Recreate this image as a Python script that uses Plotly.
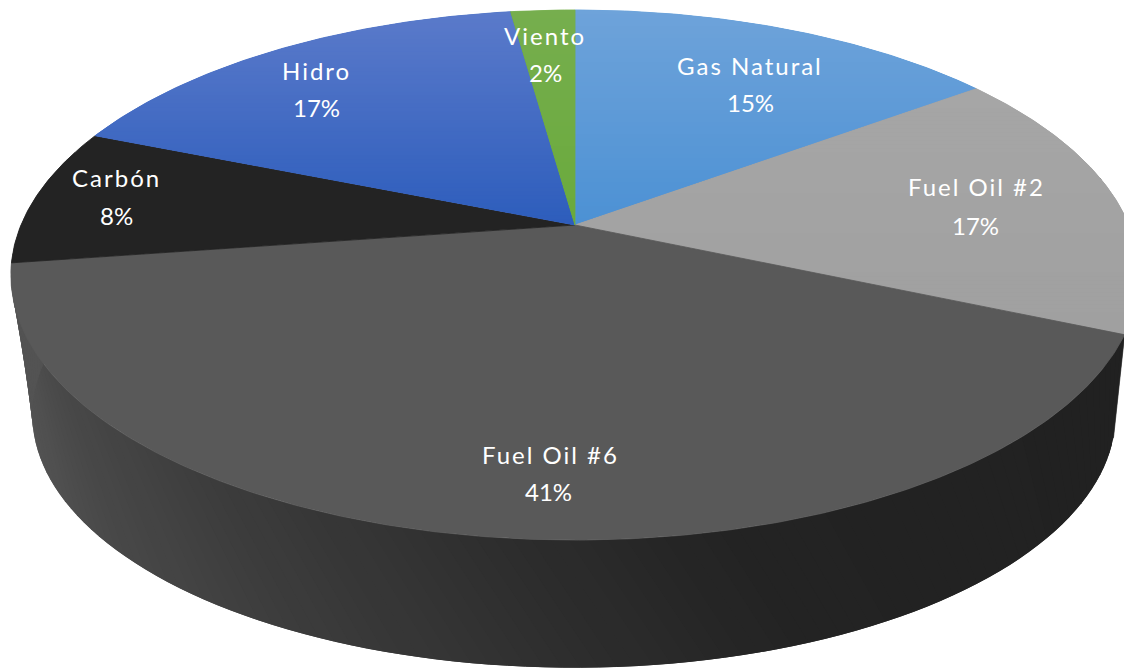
import numpy as np
import plotly.graph_objects as go

categories = ["Gas Natural", "Fuel Oil #2", "Fuel Oil #6", "Carbón", "Hidro", "Viento"]
values = [14.9, 16.6, 41.2, 8.4, 16.7, 2.2]

# (y, colour) gradient stops for each slice top, in page pixels
top_colors = [
    [(10, (110, 163, 218)), (225, (76, 145, 212))],
    [(90, (166, 166, 166)), (333, (160, 160, 160))],
    [(225, (89, 89, 89)), (540, (89, 89, 89))],
    [(135, (35, 35, 35)), (262, (35, 35, 35))],
    [(14, (90, 122, 202)), (225, (45, 93, 188))],
    [(10, (118, 174, 78)), (225, (106, 170, 60))],
]
# wall shade along x for the big slice
wall_stops_x = [20, 120, 300, 575, 800, 1124]
wall_stops_v = [85, 72, 60, 46, 35, 33]

# label layout, page pixels: name x, name y, pct x, pct y
label_pos = [
    (750, 65, 750, 102),
    (976, 186, 975, 225),
    (550, 454, 548, 491),
    (116, 177, 116, 215),
    (316, 70, 316, 107),
    (545, 35, 545, 72),
]

CX, CY = 575, 225
A, B, K = 554, 255.6, 0.1887
CX2, CY2, A2, B2 = 574, 367, 532, 244
WALL_SKEW = 0.13


def rim(theta, a=A, b=B, cx=CX, cy=CY):
    u, v = np.sin(theta), np.cos(theta)
    w = 1 + K * v
    return cx + a * u / w, cy - b * v / w


def base_rim(theta):
    return rim(theta, A2, B2, CX2, CY2)


def rgb(c):
    return "rgb(%d,%d,%d)" % tuple(int(round(x)) for x in c)


def clip(poly, y0, y1):
    def half(pts, inside, cross):
        out = []
        for i in range(len(pts)):
            p, q = pts[i], pts[(i + 1) % len(pts)]
            if inside(p):
                out.append(p)
                if not inside(q):
                    out.append(cross(p, q))
            elif inside(q):
                out.append(cross(p, q))
        return out

    def crosser(y):
        def f(p, q):
            t = (y - p[1]) / (q[1] - p[1])
            return (p[0] + t * (q[0] - p[0]), y)
        return f

    r = half(poly, lambda p: p[1] >= y0, crosser(y0))
    if r:
        r = half(r, lambda p: p[1] <= y1, crosser(y1))
    return r


fig = go.Figure()


def add_poly(pts, color, width=0.8):
    xs = [p[0] for p in pts] + [pts[0][0]]
    ys = [p[1] for p in pts] + [pts[0][1]]
    fig.add_trace(go.Scatter(x=xs, y=ys, mode="lines", fill="toself", fillcolor=color,
                             line=dict(color=color, width=width), hoverinfo="skip", showlegend=False))


total = sum(values)
edges = np.cumsum([0] + values) / total * 2 * np.pi


def wall_quad(t0, t1):
    ts = np.linspace(t0, t1, 4)
    return [rim(t) for t in ts] + [base_rim(t - WALL_SKEW) for t in ts[::-1]]


# side wall: the sliver of the Fuel Oil #2 wall, then the big slice
add_poly(wall_quad(edges[2] - 0.6, edges[2]), "rgb(78,78,78)")

th = np.linspace(edges[2], edges[3] + 0.45, 110)
step = th[1] - th[0]
for a0 in th[:-1]:
    bx = base_rim(a0 + step / 2 - WALL_SKEW)[0]
    g = np.interp(bx, wall_stops_x, wall_stops_v)
    add_poly(wall_quad(a0, a0 + 2 * step if a0 < th[-2] else a0 + step), rgb((g, g, g)), width=0)

# slice tops
for i, cat in enumerate(categories):
    ts = np.linspace(edges[i], edges[i + 1], max(6, int(values[i] * 6)))
    poly = [(CX, CY)] + [rim(t) for t in ts]
    stops = top_colors[i]
    y0, y1 = stops[0][0], stops[-1][0]
    if stops[0][1] == stops[-1][1]:
        add_poly(poly, rgb(stops[0][1]))
        continue
    mid = [(stops[0][1][k] + stops[-1][1][k]) / 2 for k in range(3)]
    add_poly(poly, rgb(mid), width=0.8)
    ymin = min(p[1] for p in poly)
    ymax = max(p[1] for p in poly)
    bands = np.arange(ymin, ymax + 4, 4)
    for b0, b1 in zip(bands[:-1], bands[1:]):
        piece = clip(poly, b0, b1 + 4)
        if len(piece) < 3:
            continue
        t = np.clip(((b0 + b1) / 2 - y0) / (y1 - y0), 0, 1)
        c = [stops[0][1][k] + t * (stops[-1][1][k] - stops[0][1][k]) for k in range(3)]
        add_poly(piece, rgb(c), width=0)

annotations = []
for cat, val, pos in zip(categories, values, label_pos):
    annotations.append(dict(x=pos[0], y=pos[1], text=cat, showarrow=False, xref="x", yref="y",
                            font=dict(family="Lato", size=24, color="white")))
    annotations.append(dict(x=pos[2], y=pos[3], text=f"{round(val)}%", showarrow=False, xref="x", yref="y",
                            font=dict(family="Lato", size=24, color="white")))

fig.update_layout(
    width=1124, height=668, margin=dict(l=0, r=0, t=0, b=0), autosize=False,
    paper_bgcolor="white", plot_bgcolor="white", showlegend=False,
    xaxis=dict(range=[0, 1124], visible=False, fixedrange=True),
    yaxis=dict(range=[668, 0], visible=False, fixedrange=True),
    annotations=annotations,
)

post = """
document.documentElement.style.overflow='hidden';
document.body.style.margin='0';
document.querySelectorAll('.annotation-text').forEach(function(t){
  if(t.textContent.indexOf('%')<0){t.style.letterSpacing='2px';}
});
"""
fig.write_html("out.html", post_script=post, config=dict(displayModeBar=False))
